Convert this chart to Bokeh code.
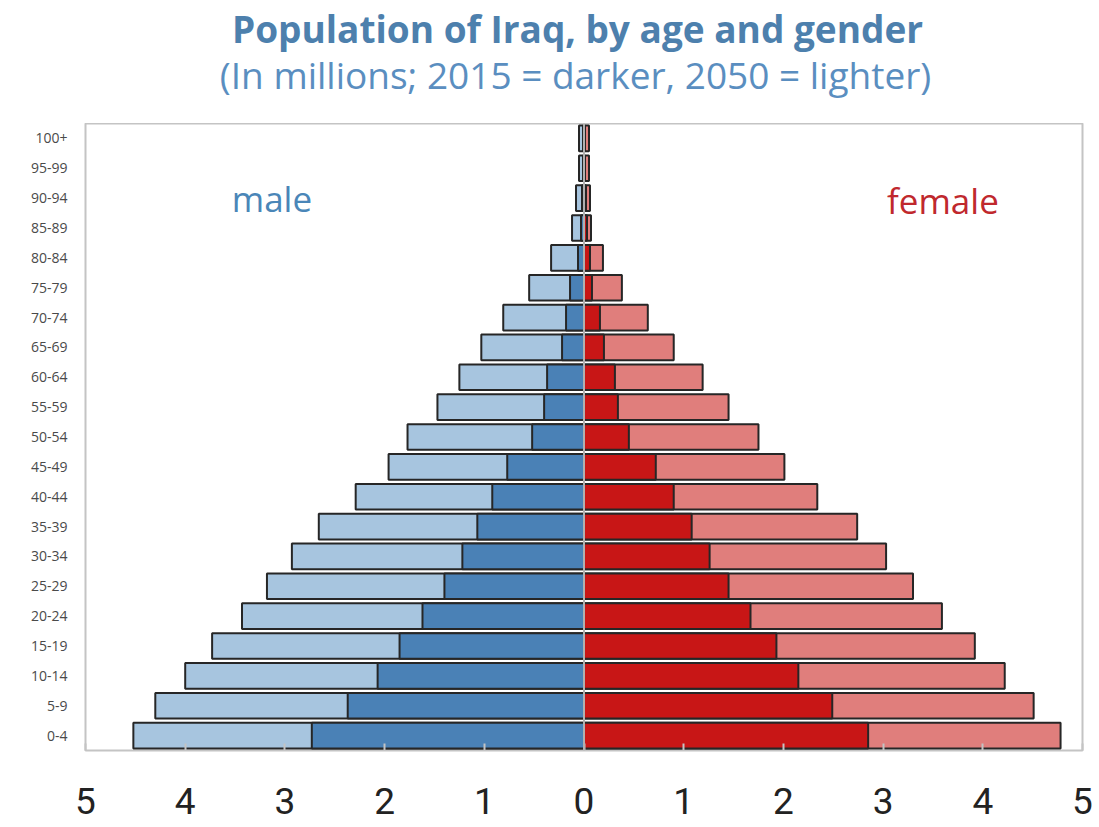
from bokeh.plotting import figure
from bokeh.layouts import column
from bokeh.models import FactorRange, Range1d, Label, Span, FixedTicker, ColumnDataSource
from bokeh.embed import file_html
from bokeh.resources import INLINE

# ---- data (millions) ----
ages = ["0-4", "5-9", "10-14", "15-19", "20-24", "25-29", "30-34", "35-39", "40-44",
        "45-49", "50-54", "55-59", "60-64", "65-69", "70-74", "75-79", "80-84",
        "85-89", "90-94", "95-99", "100+"]
male_2015 = [2.73, 2.37, 2.07, 1.85, 1.62, 1.40, 1.22, 1.07, 0.92, 0.77, 0.52, 0.40,
             0.37, 0.22, 0.18, 0.14, 0.06, 0.03, 0.02, 0.01, 0.01]
male_2050 = [4.52, 4.30, 4.00, 3.73, 3.43, 3.18, 2.93, 2.66, 2.29, 1.96, 1.77, 1.47,
             1.25, 1.03, 0.81, 0.55, 0.33, 0.12, 0.08, 0.05, 0.05]
female_2015 = [2.85, 2.49, 2.15, 1.93, 1.67, 1.45, 1.26, 1.08, 0.90, 0.72, 0.45, 0.34,
               0.31, 0.20, 0.16, 0.08, 0.06, 0.03, 0.02, 0.01, 0.01]
female_2050 = [4.78, 4.51, 4.22, 3.92, 3.59, 3.30, 3.03, 2.74, 2.34, 2.01, 1.75, 1.45,
               1.19, 0.90, 0.64, 0.38, 0.19, 0.07, 0.06, 0.05, 0.05]
x_ticks = [-5, -4, -3, -2, -1, 0, 1, 2, 3, 4, 5]
title_text = "Population of Iraq, by age and gender"
subtitle_text = "(In millions; 2015 = darker, 2050 = lighter)"

src = ColumnDataSource(dict(
    age=ages,
    m15=[-v for v in male_2015], m50=[-v for v in male_2050],
    f15=female_2015, f50=female_2050,
))

FONT = "Open Sans"
xr = Range1d(-5, 5)

# ---- header figure holding the two title lines ----
head = figure(width=1099, height=123, output_backend="svg", toolbar_location=None,
              x_range=xr, y_range=Range1d(123, 0),
              min_border_top=0, min_border_bottom=0, min_border_left=85, min_border_right=17)
head.axis.visible = False
head.grid.visible = False
head.outline_line_color = None
head.add_layout(Label(x=-0.065, y=28, text=title_text, text_align="center",
                      text_baseline="middle", text_font=FONT, text_font_style="bold",
                      text_font_size="37px", text_color="#4d80ad"))
head.add_layout(Label(x=-0.085, y=74, text=subtitle_text, text_align="center",
                      text_baseline="middle", text_font=FONT, text_font_style="normal",
                      text_font_size="37px", text_color="#5a8ec0"))

# ---- main pyramid ----
p = figure(width=1099, height=704, output_backend="svg", toolbar_location=None,
           x_range=xr, y_range=FactorRange(factors=ages, range_padding=0),
           min_border_top=0, min_border_bottom=77, min_border_left=85, min_border_right=17)
p.xgrid.visible = False
p.ygrid.visible = False
p.outline_line_color = "#c4c4c4"
p.outline_line_width = 2
p.background_fill_color = "white"
p.border_fill_color = "white"

BLUE_D, BLUE_L = "#4a81b6", "#a7c5df"
RED_D, RED_L = "#c81616", "#e07e7c"
EDGE = "#262626"
H = 0.86
p.hbar(y="age", left="m50", right=0, height=H, source=src, fill_color=BLUE_L,
       line_color=EDGE, line_width=2)
p.hbar(y="age", left="m15", right=0, height=H, source=src, fill_color=BLUE_D,
       line_color=EDGE, line_width=2)
p.hbar(y="age", left=0, right="f50", height=H, source=src, fill_color=RED_L,
       line_color=EDGE, line_width=2)
p.hbar(y="age", left=0, right="f15", height=H, source=src, fill_color=RED_D,
       line_color=EDGE, line_width=2)

p.add_layout(Span(location=0, dimension="height", line_color="#b0b0b0", line_width=2))

# x axis
xa = p.xaxis[0]
xa.ticker = FixedTicker(ticks=x_ticks)
xa.major_label_overrides = {t: str(abs(t)) for t in x_ticks}
xa.major_label_text_font = "Roboto"
xa.major_label_text_font_size = "37px"
xa.major_label_text_color = "#222222"
xa.major_label_standoff = 37
xa.major_tick_in = 7
xa.major_tick_out = 0
xa.major_tick_line_color = "#c4c4c4"
xa.major_tick_line_width = 2
xa.minor_tick_line_color = None
xa.axis_line_color = None

# y axis
ya = p.yaxis[0]
ya.major_label_text_font = FONT
ya.major_label_text_font_size = "14px"
ya.major_label_text_color = "#4a4a4a"
ya.major_label_standoff = 18
ya.major_tick_in = 0
ya.major_tick_out = 0
ya.axis_line_color = None

p.add_layout(Label(x=-3.13, y=552, y_units="screen", text="male", text_align="center",
                   text_baseline="middle", text_font=FONT, text_font_size="35px",
                   text_color="#4a86b8"))
p.add_layout(Label(x=3.6, y=550, y_units="screen", text="female", text_align="center",
                   text_baseline="middle", text_font=FONT, text_font_size="35px",
                   text_color="#c0282d"))

layout = column(head, p, spacing=0)
open("out.html", "w").write(file_html(layout, INLINE))
